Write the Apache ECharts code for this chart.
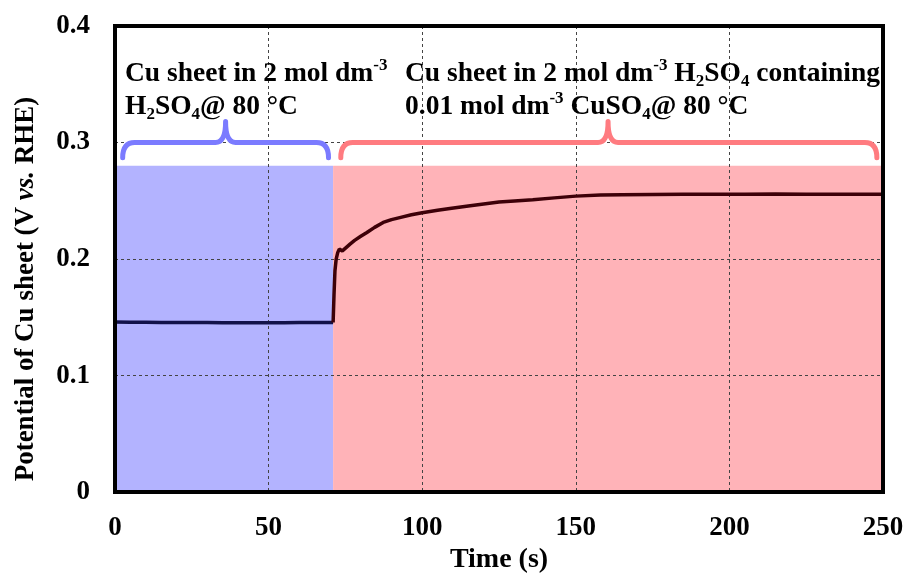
<!DOCTYPE html>
<html>
<head>
<meta charset="utf-8">
<script src="https://cdn.jsdelivr.net/npm/echarts@6/dist/echarts.min.js"></script>
<style>html,body{margin:0;padding:0;background:#fff}#c{width:909px;height:579px}</style>
</head>
<body>
<div id="c"></div>
<script>
// ---- data ----
var xTicks = [0, 50, 100, 150, 200, 250];
var yTicks = [0, 0.1, 0.2, 0.3, 0.4];
// Cu sheet in H2SO4 only
var timeA = [0, 5, 10, 15, 20, 25, 30, 35, 40, 45, 50, 55, 60, 65, 70, 71];
var potA = [0.1460, 0.1458, 0.1457, 0.1456, 0.1455, 0.1455, 0.1455, 0.1454, 0.1454, 0.1454, 0.1454, 0.1454, 0.1455, 0.1455, 0.1455, 0.1455];
// Cu sheet in H2SO4 + CuSO4
var timeB = [71, 71.3, 71.6, 72, 72.5, 73, 73.5, 74, 74.5, 75.5, 76.5, 78, 80, 82, 84.5, 87.3, 90, 93, 96.5, 100, 105, 109, 115, 120, 125, 130, 136, 143, 150, 158, 165, 175, 185, 195, 205, 215, 225, 235, 245, 250];
var potB = [0.1455, 0.170, 0.190, 0.200, 0.2055, 0.2085, 0.2075, 0.2070, 0.2085, 0.2105, 0.2128, 0.2160, 0.2195, 0.2228, 0.2272, 0.2314, 0.2338, 0.2358, 0.2380, 0.2398, 0.2418, 0.2433, 0.2455, 0.2472, 0.2489, 0.2498, 0.2508, 0.2525, 0.2540, 0.2550, 0.2552, 0.2555, 0.2556, 0.2557, 0.2557, 0.2558, 0.2557, 0.2556, 0.2556, 0.2556];
// shaded condition regions [start, end, top]
var regionStart = [0, 71];
var regionEnd = [71, 250];
var regionTop = [0.28, 0.28];
// curly braces
var braceStart = [2.5, 73.5];
var braceEnd = [69.5, 248];
var bracePeak = [36, 160.5];
var braceTipY = 0.287;
var braceLineY = 0.300;
var bracePeakY = 0.318;

// ---- styles ----
var FONT = "'Liberation Serif','Times New Roman',serif";
var regionColors = ['#b3b3ff', '#ffb3b8'];
var braceColors = ['#7b7bff', '#ff7b80'];

function pairs(xs, ys) { return xs.map(function (x, i) { return [x, ys[i]]; }); }

var chart = echarts.init(document.getElementById('c'), null, { renderer: 'canvas' });

function rt(size, extra) {
  var o = { fontFamily: FONT, fontWeight: 'bold', fontSize: size, color: '#000' };
  for (var k in extra) o[k] = extra[k];
  return o;
}
var annRich = {
  n: rt(27.5, { lineHeight: 33 }),
  sup: rt(17, { lineHeight: 29, verticalAlign: 'top' }),
  sub: rt(17, { lineHeight: 18, verticalAlign: 'bottom' })
};

var option = {
  animation: false,
  backgroundColor: '#fff',
  grid: { left: 115, right: 26, top: 26, bottom: 85, show: true, borderColor: '#000', borderWidth: 4, backgroundColor: 'transparent', z: 5 },
  xAxis: {
    type: 'value', min: xTicks[0], max: xTicks[xTicks.length - 1], interval: 50, z: 3,
    axisLine: { show: false }, axisTick: { show: false },
    splitLine: { show: true, lineStyle: { color: '#444', width: 1, type: [3, 3] } },
    axisLabel: { margin: 22, fontFamily: FONT, fontWeight: 'bold', fontSize: 27, color: '#000' },
    name: 'Time (s)', nameLocation: 'middle', nameGap: 52,
    nameTextStyle: { fontFamily: FONT, fontWeight: 'bold', fontSize: 28, color: '#000' }
  },
  yAxis: {
    type: 'value', min: yTicks[0], max: yTicks[yTicks.length - 1], interval: 0.1, z: 3,
    axisLine: { show: false }, axisTick: { show: false },
    splitLine: { show: true, lineStyle: { color: '#444', width: 1, type: [3, 3] } },
    axisLabel: { margin: 25, fontFamily: FONT, fontWeight: 'bold', fontSize: 27, color: '#000',
      formatter: function (v) { return v === 0 ? '0' : v.toFixed(1); } }
  },
  graphic: [
    {
      type: 'text', x: 26, y: 289, rotation: Math.PI / 2, z: 10,
      style: {
        text: '{n|Potential of Cu sheet (V }{i|vs.}{n| RHE)}',
        align: 'center', verticalAlign: 'middle',
        rich: { n: rt(27), i: rt(27, { fontStyle: 'italic' }) }
      }
    },
    {
      type: 'text', x: 125, y: 57, z: 10,
      style: {
        text: '{n|Cu sheet in 2 mol dm}{sup|-3}\n{n|H}{sub|2}{n|SO}{sub|4}{n|@ 80 °C}',
        align: 'left', verticalAlign: 'top', rich: annRich
      }
    },
    {
      type: 'text', x: 405, y: 57, z: 10,
      style: {
        text: '{n|Cu sheet in 2 mol dm}{sup|-3}{n| H}{sub|2}{n|SO}{sub|4}{n| containing}\n{n|0.01 mol dm}{sup|-3}{n| CuSO}{sub|4}{n|@ 80 °C}',
        align: 'left', verticalAlign: 'top', rich: annRich
      }
    }
  ],
  series: [
    {
      type: 'custom', z: 1, silent: true,
      data: regionStart.map(function (s, i) { return [s, regionEnd[i], regionTop[i], i]; }),
      renderItem: function (params, api) {
        var p0 = api.coord([api.value(0), api.value(2)]);
        var p1 = api.coord([api.value(1), 0]);
        return { type: 'rect', shape: { x: p0[0], y: p0[1], width: p1[0] - p0[0], height: p1[1] - p0[1] },
          style: { fill: regionColors[api.value(3)] } };
      }
    },
    {
      type: 'custom', z: 4, silent: true,
      data: braceStart.map(function (s, i) { return [s, braceEnd[i], bracePeak[i], i]; }),
      renderItem: function (params, api) {
        var a = api.coord([api.value(0), braceTipY]);
        var b = api.coord([api.value(1), braceTipY]);
        var m = api.coord([api.value(2), bracePeakY]);
        var yl = api.coord([0, braceLineY])[1];
        var r = 12, r2 = 10;
        var d = 'M' + a[0] + ' ' + a[1] +
          ' Q' + a[0] + ' ' + yl + ' ' + (a[0] + r) + ' ' + yl +
          ' L' + (m[0] - r2) + ' ' + yl +
          ' Q' + m[0] + ' ' + yl + ' ' + m[0] + ' ' + m[1] +
          ' Q' + m[0] + ' ' + yl + ' ' + (m[0] + r2) + ' ' + yl +
          ' L' + (b[0] - r) + ' ' + yl +
          ' Q' + b[0] + ' ' + yl + ' ' + b[0] + ' ' + b[1];
        return { type: 'path', shape: { pathData: d },
          style: { fill: 'none', stroke: braceColors[api.value(3)], lineWidth: 5, lineCap: 'round', lineJoin: 'round' } };
      }
    },
    {
      type: 'line', z: 4, showSymbol: false, silent: true,
      data: pairs(timeA, potA),
      lineStyle: { color: '#12124a', width: 3.5 }
    },
    {
      type: 'line', z: 4, showSymbol: false, silent: true,
      data: pairs(timeB, potB),
      lineStyle: { color: '#3d0008', width: 3.5 }
    }
  ]
};
chart.setOption(option);
</script>
</body>
</html>
